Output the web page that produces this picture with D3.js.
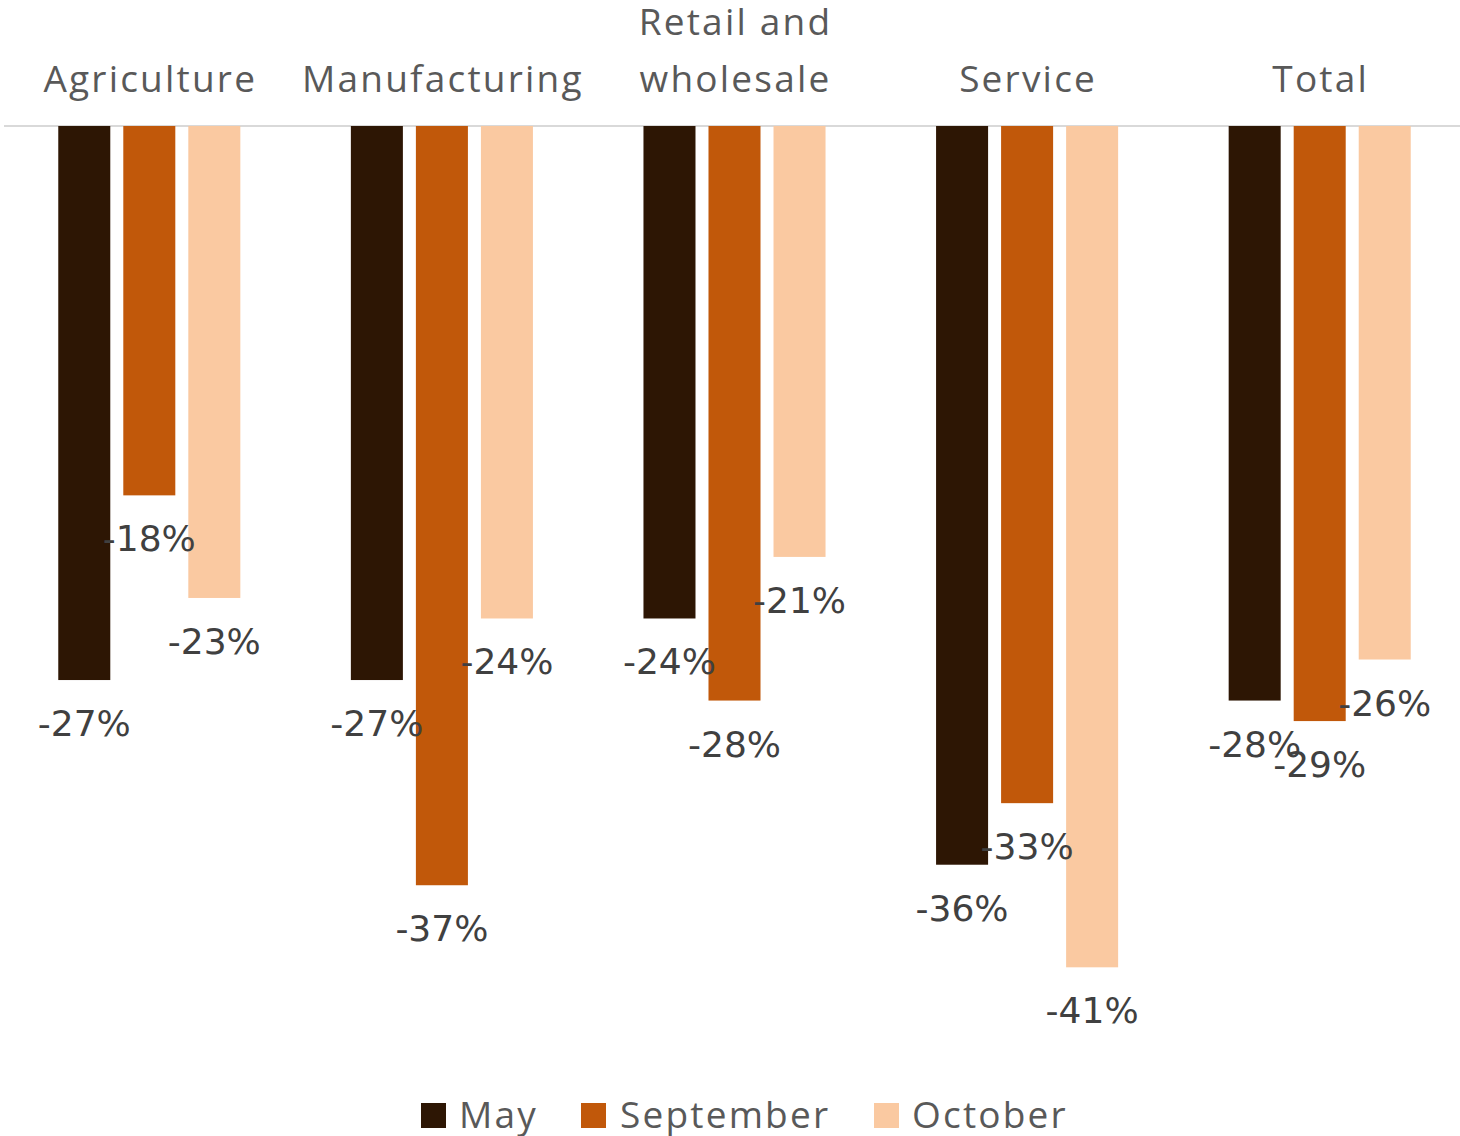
<!DOCTYPE html>
<html>
<head>
<meta charset="utf-8">
<script src="https://cdn.jsdelivr.net/npm/d3@7"></script>
<style>
  html, body { margin: 0; padding: 0; background: #ffffff; }
  svg { display: block; }
</style>
</head>
<body>
<svg id="chart" width="1460" height="1136"></svg>
<script>
// Sectors (category labels may wrap onto two lines)
const categories = ["Agriculture", "Manufacturing", "Retail and wholesale", "Service", "Total"];
const categoryLines = [["Agriculture"], ["Manufacturing"], ["Retail and", "wholesale"], ["Service"], ["Total"]];
const seriesNames = ["May", "September", "October"];

// Percentage change per sector
const mayValues = [-27, -27, -24, -36, -28];
const septemberValues = [-18, -37, -28, -33, -29];
const octoberValues = [-23, -24, -21, -41, -26];

const seriesColors = ["#2d1604", "#c1580a", "#fac9a1"];

const seriesValues = [mayValues, septemberValues, octoberValues];
const rows = categories.map((c, i) => ({
  category: c,
  lines: categoryLines[i],
  values: seriesNames.map((s, j) => ({ series: s, value: seriesValues[j][i] }))
}));

const svg = d3.select("#chart");
const baseline = 126;

const x = d3.scaleBand().domain(categories).range([3, 1466]).paddingInner(0).paddingOuter(0);
const xInner = d3.scaleBand().domain(seriesNames).range([0, x.bandwidth()])
  .paddingInner(0.2).paddingOuter(0.85);
const y = d3.scaleLinear().domain([0, -45]).range([baseline, baseline + 45 * 20.52]);
const color = d3.scaleOrdinal().domain(seriesNames).range(seriesColors);

// zero line
svg.append("line")
  .attr("x1", 4).attr("x2", 1460)
  .attr("y1", y(0)).attr("y2", y(0))
  .attr("stroke", "#d9d9d9").attr("stroke-width", 2);

// category labels across the top
const catFont = "'Open Sans', sans-serif";
const catG = svg.append("g").attr("class", "categories");
rows.forEach(r => {
  const cx = x(r.category) + x.bandwidth() / 2 + 1;
  const t = catG.append("text")
    .attr("x", cx)
    .attr("text-anchor", "middle")
    .attr("font-family", catFont)
    .attr("font-size", 37)
    .attr("fill", "#595959")
    .attr("letter-spacing", 2.2);
  const n = r.lines.length;
  r.lines.forEach((ln, k) => {
    t.append("tspan").attr("x", cx).attr("y", 92 - (n - 1 - k) * 57).text(ln);
  });
});

// bars and value labels
const groups = svg.append("g").selectAll("g")
  .data(rows).join("g")
  .attr("transform", d => `translate(${x(d.category)},0)`);

groups.selectAll("rect")
  .data(d => d.values).join("rect")
  .attr("x", d => xInner(d.series))
  .attr("width", xInner.bandwidth())
  .attr("y", y(0))
  .attr("height", d => y(d.value) - y(0))
  .attr("fill", d => color(d.series));

groups.selectAll("text.value")
  .data(d => d.values).join("text")
  .attr("class", "value")
  .attr("x", d => xInner(d.series) + xInner.bandwidth() / 2)
  .attr("y", d => y(d.value) + 56)
  .attr("text-anchor", "middle")
  .attr("font-family", "'DejaVu Sans', sans-serif")
  .attr("font-size", 36)
  .attr("fill", "#404040")
  .text(d => (d.value < 0 ? "-" : "") + Math.abs(d.value) + "%");

// legend
const legendItems = [
  { name: "May", sx: 421, tx: 459 },
  { name: "September", sx: 581, tx: 620 },
  { name: "October", sx: 874, tx: 912 }
];
const lg = svg.append("g").attr("class", "legend");
legendItems.forEach(it => {
  lg.append("rect")
    .attr("x", it.sx).attr("y", 1103)
    .attr("width", 25).attr("height", 25)
    .attr("fill", color(it.name));
  lg.append("text")
    .attr("x", it.tx).attr("y", 1128)
    .attr("font-family", catFont)
    .attr("font-size", 37)
    .attr("fill", "#595959")
    .attr("letter-spacing", 2.2)
    .text(it.name);
});
</script>
</body>
</html>
